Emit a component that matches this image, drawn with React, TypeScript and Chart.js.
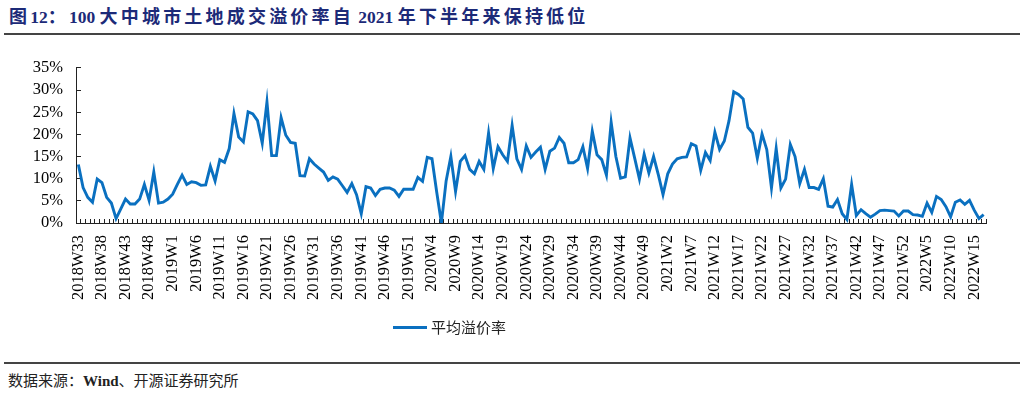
import React, { useEffect, useRef } from "react";
import { Chart, registerables } from "chart.js";

Chart.register(...registerables);

// ---- data ----
const YEARS = [2018, 2019, 2020, 2021, 2022];
const FIRST_WEEK = [33, 1, 1, 1, 1];
const LAST_WEEK = [52, 52, 52, 52, 17];
const LABEL_EVERY = 5;

const V2018 = [13.2, 8.0, 5.8, 4.7, 9.9, 9.1, 5.8, 4.5, 1.0, 3.2, 5.4, 4.3, 4.3, 5.4, 8.7, 5.1, 11.5, 4.5, 4.7, 5.4];
const V2019 = [
  6.5, 8.7, 10.8, 8.7, 9.3, 9.1, 8.5, 8.6, 12.8, 9.5,
  14.3, 13.7, 16.8, 24.7, 19.4, 18.3, 25.1, 24.6, 23.1, 18.0,
  27.3, 15.2, 15.2, 23.8, 19.8, 18.2, 18.0, 10.7, 10.6, 14.5,
  13.3, 12.4, 11.5, 9.6, 10.4, 9.9, 8.4, 6.9, 8.9, 6.4,
  2.1, 8.2, 7.9, 6.2, 7.6, 7.9, 7.9, 7.4, 6.0, 7.6,
  7.6, 7.6,
];
const V2020 = [
  10.3, 9.4, 14.8, 14.5, 7.0, 0.0, 9.5, 15.0,
  7.1, 13.9, 15.2, 12.1, 11.1, 13.9, 12.1, 20.3, 12.3, 17.2,
  15.4, 13.9, 22.0, 14.5, 12.1, 17.4, 14.8, 16.0, 17.1, 12.1,
  16.2, 16.9, 19.3, 18.0, 13.6, 13.6, 14.3, 17.2, 12.3, 20.7,
  15.4, 14.3, 10.8, 22.7, 15.0, 10.1, 10.4, 19.2, 14.6, 9.9,
  15.5, 11.3, 15.0, 10.9,
];
const V2021 = [
  6.4, 11.1, 13.3, 14.5, 14.8, 14.9,
  17.9, 17.4, 11.9, 15.9, 14.1, 20.5, 16.6, 18.5, 23.1, 29.6,
  29.0, 28.0, 21.6, 20.3, 14.6, 20.1, 16.6, 7.9, 16.8, 7.9,
  9.9, 17.7, 15.0, 8.9, 12.1, 8.0, 8.0, 7.6, 10.0, 3.8,
  3.6, 5.3, 2.1, 0.8, 8.7, 1.7, 3.0, 2.1, 1.3, 2.0,
  2.8, 2.9, 2.8, 2.7, 1.6, 2.7,
];
const V2022 = [2.7, 1.9, 1.8, 1.5, 4.5, 2.4, 6.0, 5.3, 3.7, 1.4, 4.7, 5.2, 4.2, 5.1, 2.9, 1.0, 1.9];

const SERIES_NAME = "平均溢价率";
const Y_MIN = 0;
const Y_MAX = 35;
const Y_STEP = 5;

const TITLE_PARTS: { t: string; cjk: boolean }[] = [
  { t: "图", cjk: true },
  { t: "12", cjk: false },
  { t: "：", cjk: true },
  { t: "100 ", cjk: false },
  { t: "大中城市土地成交溢价率自", cjk: true },
  { t: " 2021 ", cjk: false },
  { t: "年下半年来保持低位", cjk: true },
];

const LINE_COLOR = "#0A70C0";
const SERIF = "'Liberation Serif', 'Times New Roman', serif";
const CJK = "'Noto Sans CJK SC', sans-serif";

function buildLabels(): string[] {
  const out: string[] = [];
  YEARS.forEach((y, k) => {
    for (let w = FIRST_WEEK[k]; w <= LAST_WEEK[k]; w++) out.push(`${y}W${w}`);
  });
  return out;
}

const CANVAS_W = 1024;
const CANVAS_H = 280;

export default function App() {
  const ref = useRef<HTMLCanvasElement | null>(null);

  useEffect(() => {
    if (!ref.current) return;
    const labels = buildLabels();
    const values = [...V2018, ...V2019, ...V2020, ...V2021, ...V2022];
    const chart = new Chart(ref.current, {
      type: "line",
      data: {
        labels,
        datasets: [
          {
            label: SERIES_NAME,
            data: values,
            borderColor: LINE_COLOR,
            backgroundColor: LINE_COLOR,
            borderWidth: 2.9,
            pointRadius: 0,
            tension: 0,
            fill: false,
          },
        ],
      },
      options: {
        animation: false,
        responsive: false,
        layout: { padding: { left: 0, right: 38, top: 23, bottom: 0 } },
        plugins: {
          legend: { display: false },
          tooltip: { enabled: false },
          title: { display: false },
        },
        scales: {
          x: {
            type: "category",
            offset: true,
            grid: {
              display: true,
              drawOnChartArea: false,
              drawTicks: true,
              tickLength: -4,
              offset: true,
              color: "#222",
              lineWidth: 1,
            },
            border: { display: true, color: "#222", width: 1 },
            ticks: {
              autoSkip: false,
              maxRotation: 90,
              minRotation: 90,
              padding: 16,
              color: "#000",
              font: { family: SERIF, size: 16.5 },
              callback: (_v: any, i: number) => (i % LABEL_EVERY === 0 ? labels[i] : ""),
            },
            afterFit: (s: any) => {
              s.height = CANVAS_H - 183;
            },
          },
          y: {
            min: Y_MIN,
            max: Y_MAX,
            grid: {
              display: true,
              drawOnChartArea: false,
              drawTicks: true,
              tickLength: -5,
              color: "#222",
              lineWidth: 1,
            },
            border: { display: true, color: "#222", width: 1 },
            ticks: {
              autoSkip: false,
              stepSize: Y_STEP,
              padding: 18,
              color: "#000",
              font: { family: SERIF, size: 16.5 },
              callback: (v: any) => `${v}%`,
            },
            afterFit: (s: any) => {
              s.width = 76;
            },
          },
        },
      },
    });
    return () => chart.destroy();
  }, []);

  return (
    <div
      style={{
        position: "absolute",
        left: 0,
        top: 0,
        width: 1024,
        height: 394,
        background: "#fff",
        overflow: "hidden",
      }}
    >
      <div
        style={{
          position: "absolute",
          left: 9,
          top: 4,
          whiteSpace: "nowrap",
          color: "#1c2a78",
          fontWeight: 700,
          lineHeight: "22px",
        }}
      >
        {TITLE_PARTS.map((p, i) => (
          <span
            key={i}
            style={
              p.cjk
                ? { fontFamily: CJK, fontSize: 18, letterSpacing: "3.2px" }
                : { fontFamily: SERIF, fontSize: 17.5, whiteSpace: "pre" }
            }
          >
            {p.t}
          </span>
        ))}
      </div>
      <div style={{ position: "absolute", left: 4, top: 33, width: 1016, height: 2, background: "#444" }} />

      <canvas
        ref={ref}
        width={CANVAS_W}
        height={CANVAS_H}
        style={{ position: "absolute", left: 0, top: 40, width: CANVAS_W, height: CANVAS_H }}
      />

      <div style={{ position: "absolute", left: 393, top: 326, width: 34, height: 3, background: LINE_COLOR }} />
      <div
        style={{
          position: "absolute",
          left: 431,
          top: 317,
          fontFamily: CJK,
          fontSize: 15,
          lineHeight: "20px",
          color: "#222",
          whiteSpace: "nowrap",
        }}
      >
        {SERIES_NAME}
      </div>

      <div style={{ position: "absolute", left: 4, top: 362, width: 1016, height: 2, background: "#444" }} />
      <div
        style={{
          position: "absolute",
          left: 8,
          top: 370,
          fontSize: 15,
          lineHeight: "20px",
          color: "#222",
          whiteSpace: "nowrap",
        }}
      >
        <span style={{ fontFamily: CJK }}>数据来源：</span>
        <span style={{ fontFamily: SERIF, fontWeight: 700 }}>Wind</span>
        <span style={{ fontFamily: CJK }}>、开源证券研究所</span>
      </div>
    </div>
  );
}
